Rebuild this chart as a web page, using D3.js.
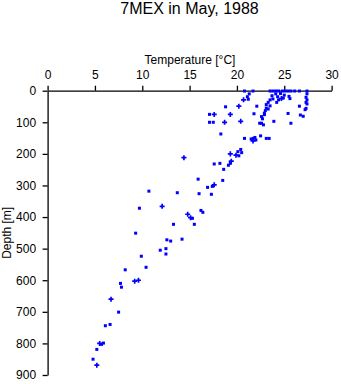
<!DOCTYPE html>
<html><head><meta charset="utf-8">
<script src="https://cdn.jsdelivr.net/npm/d3@7"></script>
<style>
html,body{margin:0;padding:0;background:#fff;}
text{font-family:"Liberation Sans",Arial,sans-serif;fill:#000;}
</style></head>
<body><svg id="c" width="341" height="384"></svg>
<script>
const title = "7MEX in May, 1988";
const xLabel = "Temperature [\u00B0C]";
const yLabel = "Depth [m]";
const xTicks = [0,5,10,15,20,25,30];
const yTicks = [0,100,200,300,400,500,600,700,800,900];

// Square-marker samples
const squareTemp = [7.7,7.8,7.5,6.6,6.1,5.7,5.9,5.2,4.8,
  9.7,16.2,16.4,15.3,13.3,15.5,9.3,12.6,13.0,14.2,11.9,12.5,12.5,9.9,10.4,8.2,
  10.7,13.7,16.0,17.3,16.9,17.4,15.9,18.5,17.6,18.2,19.3,19.1,18.6,
  20.1,20.4,20.5,20.2,
  18.3,20.8,21.5,21.7,21.9,22.5,23.1,23.4,22.0,
  18.8,17.1,17.1,17.5,21.8,22.1,22.6,22.4,22.8,22.6,22.9,22.7,23.9,25.4,26.6,26.7,27.0,25.7,
  27.4,27.3,27.4,27.3,27.4,27.3,27.2,
  20.8,21.7,23.5,23.8,24.1,24.4,24.8,25.1,25.4,25.7,26.1,26.6,27.4,
  21.3,21.1,21.2,
  23.7,24.1,24.3,23.8,23.5,24.4,24.9,25.5,25.6,23.3,23.1,23.5,23.1,23.3,23.0,22.9,24.2,24.6,25.0];
const squareDepth = [610,622,701,740,744,803,799,819,850,
  372,379,385,404,423,423,451,472,476,470,505,500,517,524,559,567,
  318,323,326,328,306,303,280,284,232,230,230,236,249,
  193,186,196,206,
  137,151,153,151,148,143,151,151,156,
  51,75,100,100,73,49,103,103,108,82,76,89,97,72,49,77,81,103,
  10,21,29,37,42,56,60,
  1,1,1,1,1,1,1,1,1,1,1,1,1,
  10,19,27,
  16,10,19,26,29,29,23,18,25,37,44,48,55,58,63,71,37,9,14];

// Plus-marker samples
const plusTemp  = [9.2,9.6,6.7,5.5,5.2,12.1,14.8,15.1,17.6,19.4,14.4,19.3,19.9,21.7,20.2,17.6,19.3,18.7,20.4,20.7,24.7];
const plusDepth = [603,600,660,800,869,366,391,402,298,223,212,200,204,159,49,75,75,100,97,29,25];

const svg = d3.select("#c");
const x = d3.scaleLinear().domain([0,30]).range([47.6,331.6]);
const y = d3.scaleLinear().domain([0,900]).range([90.7,375]);
const blue = "#0000ff";

svg.append("text").attr("x",189.5).attr("y",14).attr("text-anchor","middle")
  .style("font-size","16px").text(title);
svg.append("text").attr("x",190).attr("y",64).attr("text-anchor","middle")
  .style("font-size","12px").text(xLabel);
svg.append("text").attr("transform","translate(11,232.8) rotate(-90)")
  .attr("text-anchor","middle").style("font-size","12px").text(yLabel);

const xAxis = svg.append("g").attr("transform","translate(0,90.7)")
  .call(d3.axisTop(x).tickValues(xTicks).tickSize(5).tickSizeOuter(0).tickPadding(6.5));
const yAxis = svg.append("g").attr("transform","translate(47.6,0)")
  .call(d3.axisLeft(y).tickValues(yTicks).tickSize(5).tickSizeOuter(0).tickPadding(6.5));
[xAxis,yAxis].forEach(g=>{
  g.selectAll("text").style("font-size","12px").style("font-family","'Liberation Sans',Arial,sans-serif").attr("fill","#000");
  g.selectAll("path,line").attr("stroke","#000").attr("stroke-width",1.3);
});

const sq = squareTemp.map((t,i)=>({t, d:squareDepth[i]}));
svg.append("g").selectAll("rect").data(sq).join("rect")
  .attr("x",p=>x(p.t)-1.5).attr("y",p=>y(p.d)-1.5)
  .attr("width",3).attr("height",3).attr("fill",blue);

const pl = plusTemp.map((t,i)=>({t, d:plusDepth[i]}));
svg.append("g").selectAll("path").data(pl).join("path")
  .attr("transform",p=>`translate(${x(p.t)},${y(p.d)})`)
  .attr("d",d3.symbol(d3.symbolCross,14)).attr("fill",blue);
</script></body></html>
